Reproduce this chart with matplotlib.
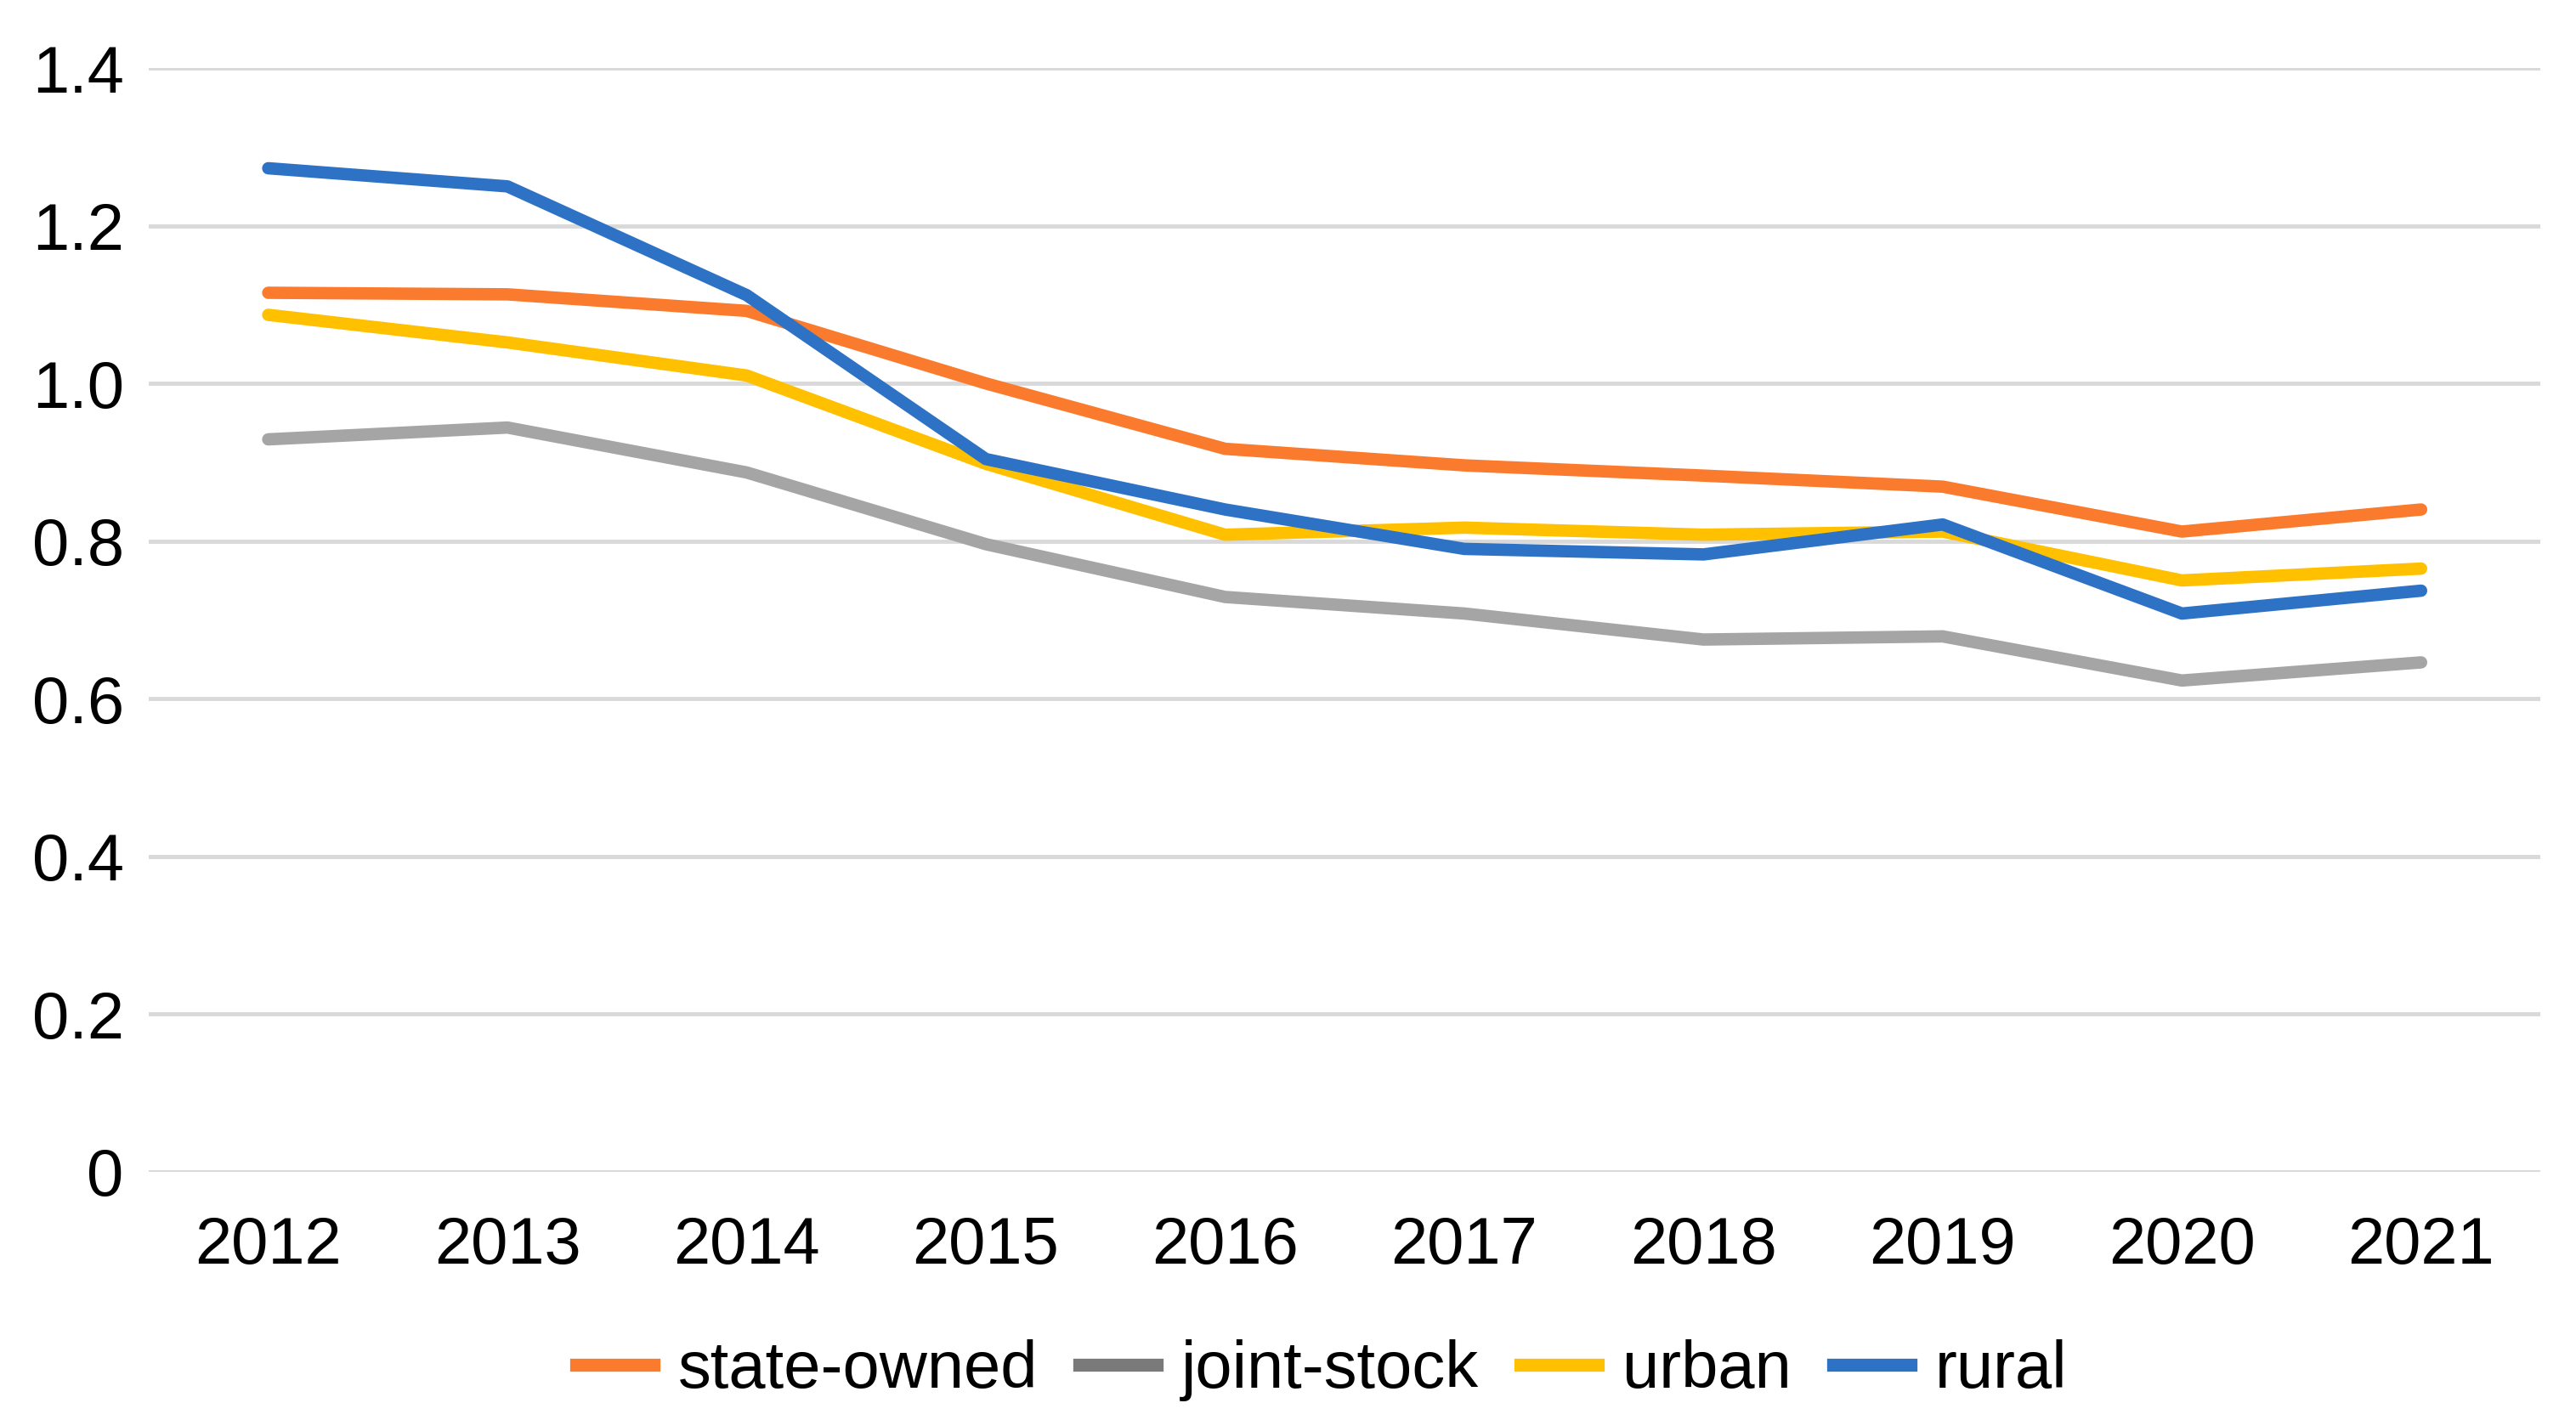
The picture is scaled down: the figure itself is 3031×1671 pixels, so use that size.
import matplotlib.pyplot as plt
from matplotlib.lines import Line2D

plt.rcParams['font.family'] = ['Liberation Sans', 'DejaVu Sans']

years = ['2012', '2013', '2014', '2015', '2016', '2017', '2018', '2019', '2020', '2021']
state_owned = [1.115, 1.113, 1.092, 1.000, 0.917, 0.896, 0.883, 0.869, 0.812, 0.840]
joint_stock = [0.929, 0.944, 0.887, 0.796, 0.729, 0.708, 0.675, 0.679, 0.623, 0.646]
urban = [1.087, 1.052, 1.010, 0.898, 0.808, 0.817, 0.808, 0.812, 0.750, 0.765]
rural = [1.273, 1.250, 1.112, 0.904, 0.840, 0.790, 0.783, 0.821, 0.708, 0.737]

names = ['state-owned', 'joint-stock', 'urban', 'rural']
colors = ['#FA7B2E', '#A5A5A5', '#FFC000', '#2E72C6']
legend_colors = ['#FA7B2E', '#7A7A7A', '#FFC000', '#2E72C6']

fig = plt.figure(figsize=(30.31, 16.71), dpi=100)
ax = fig.add_axes([0.0577, 0.175, 0.9286, 0.777])

x = range(len(years))
for vals, c in zip([state_owned, joint_stock, urban, rural], colors):
    ax.plot(x, vals, color=c, lw=10.5, solid_capstyle='round', solid_joinstyle='round')

ax.set_xlim(-0.5, len(years) - 0.5)
ax.set_ylim(0, 1.4)
yt = [0, 0.2, 0.4, 0.6, 0.8, 1.0, 1.2, 1.4]
ax.set_yticks(yt)
ax.set_yticklabels(['0', '0.2', '0.4', '0.6', '0.8', '1.0', '1.2', '1.4'])
ax.set_xticks(list(x))
ax.set_xticklabels(years)
ax.grid(axis='y', color='#D9D9D9', lw=3.5)
ax.set_axisbelow(True)
for s in ax.spines.values():
    s.set_visible(False)
ax.tick_params(axis='both', length=0, labelsize=56, colors='black')
ax.tick_params(axis='y', pad=21)
ax.tick_params(axis='x', pad=37)

handles = [Line2D([], [], color=c, lw=11) for c in legend_colors]
fig.legend(handles, names, loc='center', bbox_to_anchor=(0.513, 0.035), ncol=4,
           frameon=False, fontsize=56, handlelength=1.17, handletextpad=0.37,
           columnspacing=0.63)

fig.savefig('out.png', dpi=100, facecolor='white')
